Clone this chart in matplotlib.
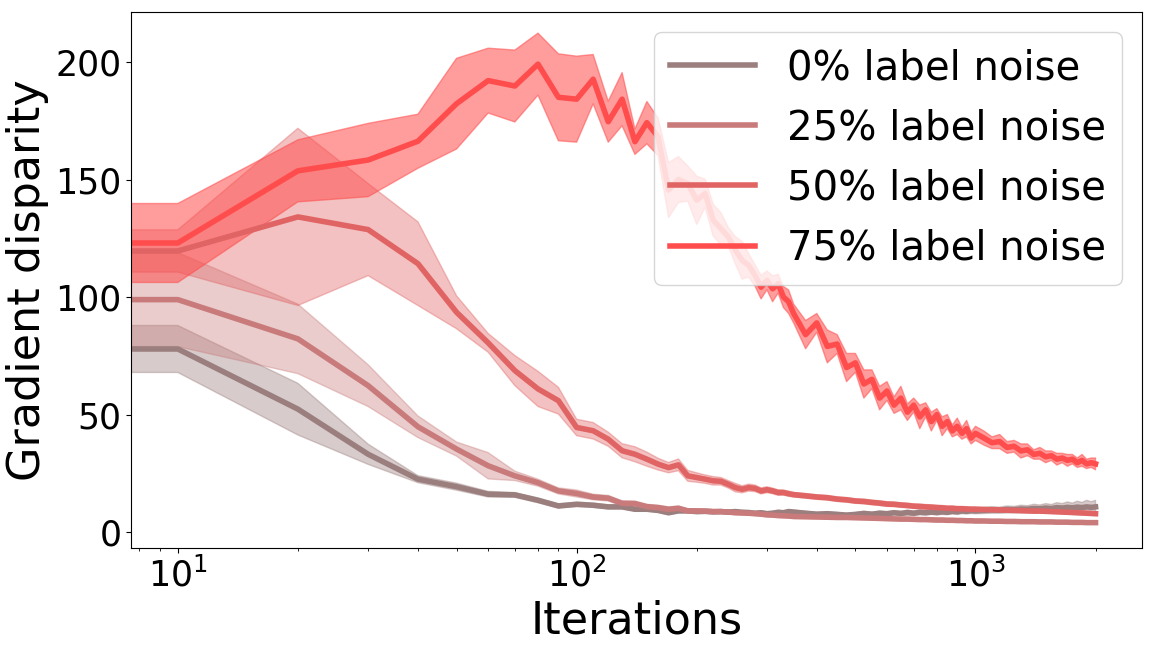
import numpy as np
import matplotlib
matplotlib.use("Agg")
import matplotlib.pyplot as plt

# iterations (0 is the initial measurement, it sits on the left edge of the log axis)
iters = ([0, 10, 20, 30, 40, 50, 60, 70, 80, 90, 100, 110, 120, 130, 140, 150, 160, 170, 180,
          190, 200, 210, 220, 230, 240, 250, 260, 270, 280, 290, 300, 310, 320, 330, 340, 350]
         + [375, 400, 425, 450, 475, 500, 525, 550, 575, 600, 625, 650, 675, 700, 725, 750, 775,
            800, 825, 850, 875, 900, 925, 950, 975, 1000]
         + [1050, 1100, 1150, 1200, 1250, 1300, 1350, 1400, 1450, 1500, 1550, 1600, 1650, 1700,
            1750, 1800, 1850, 1900, 1950, 2000])

# 0% label noise
m0 = ([77.9, 77.9, 52.3, 33.1, 22.5, 19.3, 16.1, 15.8, 13.5, 11.1, 11.8, 11.4, 10.7, 10.7, 9.7, 9.7,
       9.2, 8.2, 9.0, 9.0, 8.7, 8.8, 8.6, 8.7, 8.5, 8.7, 8.4, 8.3, 8.0, 8.2, 7.8, 8.0, 8.4, 8.2, 8.7, 8.5]
      + [8.0, 7.6, 7.8, 7.5, 7.2, 7.5, 7.9, 7.6, 8.0, 7.8, 8.2, 7.9, 8.3, 8.0, 8.4, 8.2, 8.5, 8.3,
         8.6, 8.4, 8.8, 8.6, 9.0, 8.8, 9.1, 9.0]
      + [9.2, 9.4, 9.3, 9.6, 9.5, 9.8, 9.7, 10.0, 9.9, 10.2, 10.0, 10.4, 10.2, 10.5, 10.3, 10.6,
         10.4, 10.7, 10.5, 10.7])
s0 = ([10.0, 10.0, 11.0, 4.3, 1.5, 1.5, 1.2, 1.0, 1.0, 0.9, 0.9, 0.9, 0.8, 0.8, 0.8, 0.8, 0.8, 0.8,
       0.8, 0.8, 0.8, 0.8, 0.8, 0.8, 0.8, 0.8, 0.8, 0.8, 0.8, 0.8, 0.8, 0.8, 0.8, 0.8, 0.8, 0.8]
      + [0.8, 0.8, 0.8, 0.8, 0.8, 0.8, 0.9, 0.8, 0.9, 0.8, 0.9, 0.9, 1.0, 0.9, 1.0, 0.9, 1.0, 1.0,
         1.1, 1.0, 1.1, 1.1, 1.2, 1.1, 1.2, 1.2]
      + [1.3, 1.4, 1.3, 1.5, 1.4, 1.6, 1.5, 1.8, 1.6, 1.9, 1.7, 2.1, 1.9, 2.3, 2.0, 2.5, 2.2, 2.8,
         2.4, 2.8])

# 25% label noise
m25 = ([98.9, 98.9, 82.2, 62.3, 44.8, 35.3, 28.2, 23.9, 21.0, 17.5, 16.4, 14.9, 14.4, 12.2, 12.1,
        10.8, 10.4, 9.7, 10.1, 9.0, 9.0, 8.9, 8.7, 8.7, 8.5, 8.2, 8.1, 8.0, 7.8, 7.6, 7.3, 7.2, 7.0,
        6.9, 6.8, 6.6]
       + [6.5, 6.4, 6.3, 6.2, 6.2, 6.1, 6.0, 5.9, 5.8, 5.7, 5.6, 5.5, 5.5, 5.4, 5.3, 5.3, 5.2, 5.1,
          5.1, 5.0, 5.0, 4.9, 4.9, 4.8, 4.8, 4.7]
       + [4.7, 4.6, 4.6, 4.5, 4.5, 4.4, 4.4, 4.4, 4.3, 4.3, 4.3, 4.2, 4.2, 4.2, 4.1, 4.1, 4.1, 4.0,
          4.0, 4.0])
s25 = ([20.0, 20.0, 14.8, 8.9, 4.6, 3.0, 5.6, 2.0, 1.5, 1.3, 1.5, 1.2, 1.2, 1.1, 1.1, 1.0, 1.0, 1.0,
        1.0, 0.9, 0.9, 0.9, 0.9, 0.9, 0.8, 0.8, 0.8, 0.8, 0.8, 0.8, 0.8, 0.8, 0.8, 0.8, 0.8, 0.8]
       + [0.8] * 26
       + [0.7] * 20)

# 50% label noise
m50 = ([119.6, 119.6, 134.1, 128.7, 114.2, 93.5, 80.5, 68.7, 60.9, 55.9, 44.5, 43.1, 39.5, 34.6,
        33.1, 31.0, 28.9, 27.4, 28.6, 23.9, 23.2, 22.5, 21.8, 21.6, 20.3, 18.9, 18.2, 18.9, 18.6,
        17.5, 18.0, 17.5, 16.8, 16.8, 16.3, 15.9]
       + [15.4, 14.9, 14.6, 14.0, 13.7, 13.2, 13.0, 12.6, 12.3, 11.9, 11.8, 11.5, 11.3, 11.0, 10.9,
          10.7, 10.6, 10.4, 10.3, 10.1, 10.1, 9.9, 9.9, 9.8, 9.7, 9.7]
       + [9.6, 9.5, 9.4, 9.3, 9.2, 9.1, 9.0, 8.9, 8.9, 8.8, 8.7, 8.6, 8.5, 8.4, 8.3, 8.2, 8.1, 8.0,
          7.9, 7.8])
s50 = ([9.0, 9.0, 37.7, 19.6, 17.8, 7.0, 4.0, 6.4, 7.5, 5.7, 3.5, 3.5, 3.0, 3.0, 3.2, 3.0, 2.5, 2.2,
        2.5, 2.3, 2.0, 1.8, 1.8, 1.6, 1.6, 1.8, 1.5, 1.5, 1.4, 1.3, 1.3, 1.2, 1.2, 1.1, 1.1, 1.0]
       + [1.0] * 26
       + [0.8] * 20)

# 75% label noise
m75 = ([123.0, 123.0, 153.7, 158.3, 166.3, 182.3, 192.1, 189.8, 199.1, 185.0, 184.2, 192.7, 174.6,
        184.2, 166.1, 174.2, 168.2, 145.5, 150.0, 148.3, 141.2, 144.1, 132.7, 129.1, 125.6, 119.9,
        115.6, 113.5, 109.2, 104.2, 107.1, 103.5, 105.7, 100.0, 98.0, 93.0]
       + [84.0, 89.0, 79.0, 80.0, 70.0, 72.0, 63.0, 65.0, 57.0, 60.0, 54.0, 57.0, 51.0, 54.0, 49.0,
          52.0, 47.0, 50.0, 45.0, 47.0, 43.0, 45.0, 42.0, 44.0, 40.0, 42.0]
       + [40.0, 38.0, 38.5, 36.0, 36.5, 34.5, 35.0, 33.0, 33.5, 32.0, 32.5, 31.0, 31.5, 30.5, 31.0,
          29.5, 30.5, 29.0, 29.5, 29.0])
s75 = ([16.8, 16.8, 13.2, 15.6, 11.5, 19.3, 13.8, 15.3, 13.2, 18.5, 18.3, 10.5, 8.7, 11.3, 5.4, 9.0,
        8.0, 11.7, 9.8, 7.5, 10.3, 6.0, 6.8, 6.8, 4.0, 5.8, 8.0, 5.0, 4.5, 5.0, 4.0, 5.5, 4.0, 4.5,
        5.0, 4.0]
       + [6.0, 4.0, 7.0, 4.0, 6.0, 4.0, 6.0, 4.0, 5.0, 4.0, 3.5, 5.0, 3.5, 3.0, 5.0, 3.0, 4.0, 2.5,
          4.0, 3.0, 2.5, 3.5, 2.5, 3.5, 2.5, 3.0]
       + [3.0, 2.5, 3.0, 2.5, 2.5, 3.0, 2.5, 2.0, 2.5, 2.5, 2.0, 2.5, 2.0, 2.5, 2.0, 2.0, 2.5, 2.0,
          2.0, 2.5])

means = [m0, m25, m50, m75]
stds = [s0, s25, s50, s75]
colours = ["#9b7f7f", "#c97b7b", "#e16464", "#ff4d4d"]
alphas = [0.4, 0.38, 0.4, 0.55]
labels = ["0% label noise", "25% label noise", "50% label noise", "75% label noise"]

fig = plt.figure(figsize=(11.52, 6.48), dpi=100)
ax = fig.add_axes([0.1137, 0.1543, 0.8776, 0.8272])
ax.set_xscale("log", nonpositive="clip")

x = np.array(iters, dtype=float)
for m, s, colour, a, label in zip(means, stds, colours, alphas, labels):
    m = np.array(m)
    s = np.array(s)
    ax.fill_between(x, m - s, m + s, color=colour, alpha=a, linewidth=1)
    ax.plot(x, m, color=colour, linewidth=4, label=label)

ax.set_xlim(7.63, 2615)
ax.set_ylim(-6.8, 221.3)
ax.set_yticks([0, 50, 100, 150, 200])
ax.tick_params(axis="both", which="major", labelsize=25)

ax.set_xlabel("Iterations", fontsize=32)
ax.set_ylabel("Gradient disparity", fontsize=32)

lg = ax.legend(loc="upper right", fontsize=29, labelspacing=0.5, handlelength=2.1)

fig.savefig("out.png", dpi=100)
